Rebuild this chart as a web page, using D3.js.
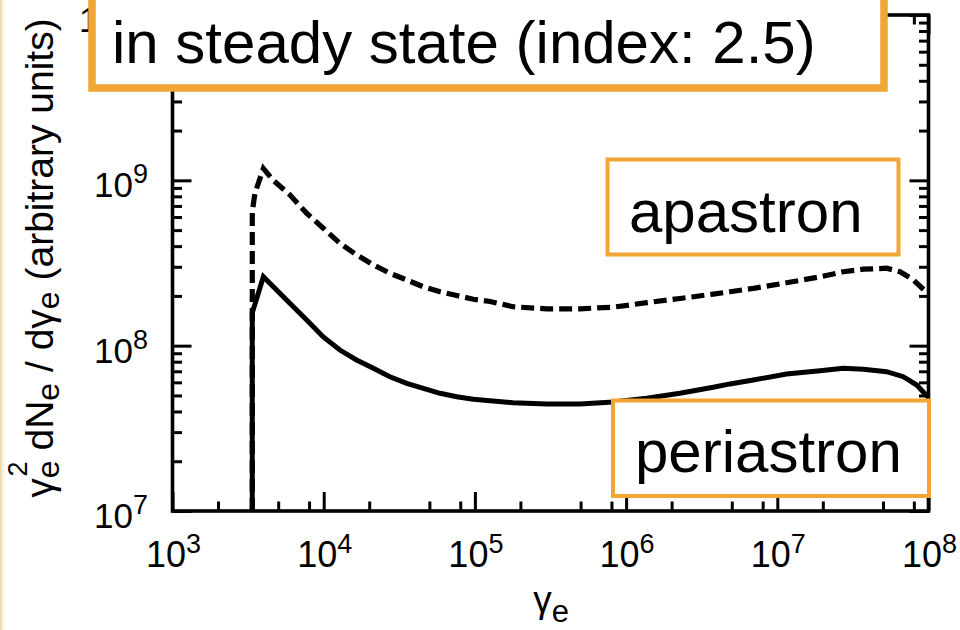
<!DOCTYPE html>
<html>
<head>
<meta charset="utf-8">
<script src="https://cdn.jsdelivr.net/npm/d3@7/dist/d3.min.js"></script>
<style>
  html, body { margin: 0; padding: 0; background: #fff; }
  svg { display: block; }
  text { font-family: "Liberation Sans", Arial, Helvetica, sans-serif; fill: #000; }
</style>
</head>
<body>
<svg id="chart" width="960" height="630"></svg>
<script>
// Lorentz factor of the electrons (x) for each spectrum
const gammaPeri = [3370, 3370, 3990, 5990, 7720, 9940,
  1.28e4, 1.65e4, 2.13e4, 2.74e4, 3.54e4, 4.56e4, 5.88e4, 7.58e4, 9.76e4,
  1.26e5, 1.79e5, 2.98e5, 4.96e5, 8.23e5,
  1.37e6, 2.27e6, 3.77e6, 4.87e6, 6.94e6,
  1.15e7, 1.92e7, 2.73e7, 3.71e7, 5.29e7, 6.81e7, 8.36e7, 1e8];
// gamma^2 dN/dgamma at periastron (arbitrary units)
const periastron = [1e7, 1.58e8, 2.61e8, 1.80e8, 1.43e8, 1.13e8,
  9.41e7, 8.19e7, 7.30e7, 6.49e7, 5.92e7, 5.52e7, 5.15e7, 4.91e7, 4.74e7,
  4.65e7, 4.52e7, 4.44e7, 4.44e7, 4.56e7,
  4.81e7, 5.15e7, 5.60e7, 5.87e7, 6.20e7,
  6.74e7, 7.06e7, 7.30e7, 7.20e7, 6.96e7, 6.49e7, 5.78e7, 4.85e7];

const gammaApa = [3370, 3370, 3510, 3990, 4640, 5990, 7720, 9940,
  1.28e4, 1.65e4, 2.13e4, 2.74e4, 3.54e4, 4.56e4, 5.88e4, 7.58e4, 9.76e4,
  1.26e5, 1.79e5, 2.98e5, 4.96e5, 8.23e5,
  1.37e6, 2.27e6, 3.77e6, 4.87e6, 6.94e6,
  1.15e7, 1.92e7, 2.73e7, 3.71e7, 5.29e7, 6.48e7, 7.93e7, 1e8];
// gamma^2 dN/dgamma at apastron (arbitrary units)
const apastron = [1e7, 6.46e8, 8.35e8, 1.18e9, 1.00e9, 8.15e8, 6.32e8, 5.13e8,
  4.16e8, 3.54e8, 3.08e8, 2.74e8, 2.50e8, 2.27e8, 2.12e8, 2.01e8, 1.91e8,
  1.85e8, 1.72e8, 1.67e8, 1.67e8, 1.71e8,
  1.82e8, 1.93e8, 2.05e8, 2.12e8, 2.22e8,
  2.40e8, 2.61e8, 2.80e8, 2.90e8, 2.94e8, 2.80e8, 2.50e8, 2.05e8];

// decade exponents that get labels, and mantissas of the minor ticks
const xTickExps = [3, 4, 5, 6, 7, 8];
const yTickExps = [7, 8, 9, 10];
const xMinorMantissas = [2, 5, 8];
const yMinorMantissas = [2, 3, 4, 5, 6, 7, 8, 9];

const titleText = "in steady state (index: 2.5)";
const apaLabel = "apastron";
const periLabel = "periastron";

const ORANGE = "#F1A535";
const svg = d3.select("#chart");

// soft gold edge on the left of the page
const defs = svg.append("defs");
const grad = defs.append("linearGradient").attr("id", "edge").attr("x1", 0).attr("x2", 1);
grad.append("stop").attr("offset", 0).attr("stop-color", "#E9D39A");
grad.append("stop").attr("offset", 1).attr("stop-color", "#FFFFFF").attr("stop-opacity", 0);
svg.append("rect").attr("x", 0).attr("y", 0).attr("width", 7).attr("height", 630).attr("fill", "url(#edge)");

const L = 172.5, R = 928.5, T = 15, B = 511;
const x = d3.scaleLog().domain([1e3, 1e8]).range([L, R]);
const y = d3.scaleLog().domain([1e7, 1e10]).range([B, T]);

defs.append("clipPath").attr("id", "plot")
  .append("rect").attr("x", L).attr("y", T).attr("width", R - L).attr("height", B - T);

const xMajor = xTickExps.map(e => Math.pow(10, e));
const yMajor = yTickExps.map(e => Math.pow(10, e));
const xMinor = [];
xTickExps.slice(0, -1).forEach(e => xMinorMantissas.forEach(m => xMinor.push(m * Math.pow(10, e))));
const yMinor = [];
yTickExps.slice(0, -1).forEach(e => yMinorMantissas.forEach(m => yMinor.push(m * Math.pow(10, e))));

function styleAxis(g) {
  g.select(".domain").remove();
  g.selectAll(".tick line").attr("stroke", "#000").attr("stroke-width", 3);
  g.selectAll(".tick text").remove();
}

const MAJ = 19, MIN = 9.5;
// ticks point into the plot on all four sides
[[d3.axisBottom, B, xMajor, MAJ], [d3.axisBottom, B, xMinor, MIN],
 [d3.axisTop, T, xMajor, MAJ], [d3.axisTop, T, xMinor, MIN]].forEach(([ax, pos, vals, len]) => {
  svg.append("g").attr("transform", `translate(0,${pos})`)
    .call(ax(x).tickValues(vals).tickSizeInner(-len).tickSizeOuter(0).tickFormat(""))
    .call(styleAxis);
});
[[d3.axisLeft, L, yMajor, MAJ], [d3.axisLeft, L, yMinor, MIN],
 [d3.axisRight, R, yMajor, MAJ], [d3.axisRight, R, yMinor, MIN]].forEach(([ax, pos, vals, len]) => {
  svg.append("g").attr("transform", `translate(${pos},0)`)
    .call(ax(y).tickValues(vals).tickSizeInner(-len).tickSizeOuter(0).tickFormat(""))
    .call(styleAxis);
});

// plot frame
svg.append("rect").attr("x", L).attr("y", T).attr("width", R - L).attr("height", B - T)
  .attr("fill", "none").attr("stroke", "#000").attr("stroke-width", 3.6);

// tick labels as 10 with a raised exponent
function powerLabel(sel, exp) {
  sel.append("tspan").text("10");
  sel.append("tspan").attr("font-size", 27).attr("dy", -14).text(exp);
}
xTickExps.forEach(e => {
  svg.append("text").attr("x", x(Math.pow(10, e)) + 1).attr("y", 567)
    .attr("text-anchor", "middle").attr("font-size", 36)
    .call(powerLabel, e);
});
yTickExps.forEach(e => {
  svg.append("text").attr("x", 148).attr("y", y(Math.pow(10, e)) + 17)
    .attr("text-anchor", "end").attr("font-size", 35)
    .call(powerLabel, e);
});

// spectra
const line = d3.line().x(d => x(d[0])).y(d => y(d[1]));
const plot = svg.append("g").attr("clip-path", "url(#plot)");
plot.append("path")
  .datum(gammaApa.map((g, i) => [g, apastron[i]]))
  .attr("d", line).attr("fill", "none").attr("stroke", "#000")
  .attr("stroke-width", 5.2).attr("stroke-dasharray", "13,6");
plot.append("path")
  .datum(gammaPeri.map((g, i) => [g, periastron[i]]))
  .attr("d", line).attr("fill", "none").attr("stroke", "#000")
  .attr("stroke-width", 5).attr("stroke-linejoin", "miter");

// axis titles
const xt = svg.append("text").attr("x", 551).attr("y", 612).attr("text-anchor", "middle").attr("font-size", 37);
xt.append("tspan").text("γ");
xt.append("tspan").attr("font-size", 31).attr("dy", 10).text("e");

const yt = svg.append("text").attr("transform", "translate(53,258) rotate(-90)")
  .attr("text-anchor", "middle").attr("font-size", 39);
yt.append("tspan").text("γ");
yt.append("tspan").attr("font-size", 32).attr("dy", 6).text("e");
yt.append("tspan").attr("font-size", 27).attr("dx", -16).attr("dy", -32).text("2");
yt.append("tspan").attr("dy", 26).text(" dN");
yt.append("tspan").attr("font-size", 32).attr("dy", 6).text("e");
yt.append("tspan").attr("dy", -6).text(" / dγ");
yt.append("tspan").attr("font-size", 32).attr("dy", 6).text("e");
yt.append("tspan").attr("dy", -6).text(" (arbitrary units)");

// annotation boxes
function labelBox(bx, by, bw, bh, sw, text, tx, ty) {
  svg.append("rect").attr("x", bx).attr("y", by).attr("width", bw).attr("height", bh)
    .attr("fill", "#fff").attr("stroke", ORANGE).attr("stroke-width", sw);
  svg.append("text").attr("x", tx).attr("y", ty).attr("font-size", 60).text(text);
}
labelBox(92, -20, 792, 108, 7.5, titleText, 112, 63);
labelBox(607.5, 159.5, 291, 95, 4, apaLabel, 629, 232);
labelBox(613, 400.5, 316, 95.5, 4, periLabel, 635, 472);
</script>
</body>
</html>
